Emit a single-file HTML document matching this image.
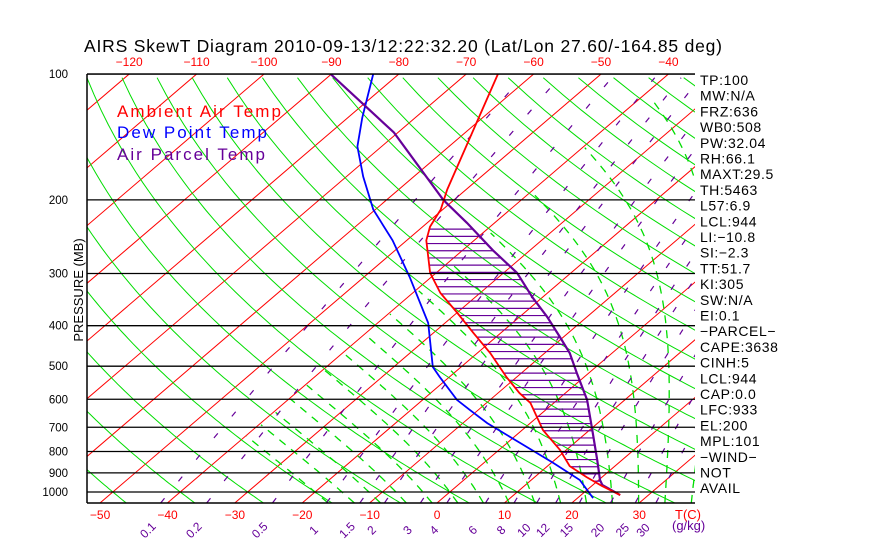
<!DOCTYPE html>
<html><head><meta charset="utf-8">
<style>
html,body{margin:0;padding:0;background:#fff;}
svg{display:block;font-family:"Liberation Sans",sans-serif;}
</style></head>
<body>
<svg id="chart" width="870" height="560" viewBox="0 0 870 560">
<defs><clipPath id="plotclip"><rect x="87" y="74" width="608" height="429"/></clipPath></defs>
<text x="84" y="52" font-size="17.5" fill="#000" textLength="638" lengthAdjust="spacing">AIRS SkewT Diagram 2010-09-13/12:22:32.20 (Lat/Lon 27.60/-164.85 deg)</text>
<g id="grid" clip-path="url(#plotclip)"></g>
<g id="series" clip-path="url(#plotclip)"></g>
<g id="axes"></g>
<text transform="translate(83,290) rotate(-90)" text-anchor="middle" font-size="13" fill="#000">PRESSURE (MB)</text>
<g font-size="17">
<text x="117" y="117" fill="#ff0000" textLength="164" lengthAdjust="spacing">Ambient Air Temp</text>
<text x="117" y="138" fill="#0000ff" textLength="150" lengthAdjust="spacing">Dew Point Temp</text>
<text x="117" y="160" fill="#660099" textLength="148" lengthAdjust="spacing">Air Parcel Temp</text>
</g>
<g id="stats" font-size="14" letter-spacing="0.6" fill="#000"></g>
</svg>
<script>
const presLevels=[100,200,300,400,500,600,700,800,900,1000];
const topTicks=[-120,-110,-100,-90,-80,-70,-60,-50,-40];
const bottomTicks=[-50,-40,-30,-20,-10,0,10,20,30];
const mixRatios=[0.1,0.2,0.5,1,1.5,2,3,4,6,8,10,12,15,20,25,30];
const tempP=[100,189,211,232,250,299,334,373,416,465,531,580,612,711,794,867,921,967,1017];
const tempT=[-65.3,-52.8,-50.3,-48.9,-47.1,-40.9,-35.9,-29.9,-24.1,-18.1,-11.5,-6.8,-3.5,3.1,9.1,13.3,17.7,21.5,25.8];
const dewP=[100,127,149,176,211,250,306,394,502,531,602,637,684,763,852,936,1034];
const dewT=[-83.8,-77.9,-73.6,-67.5,-60.3,-52.1,-43.2,-32.5,-24.2,-21.4,-14.9,-11.2,-6.4,1.9,10.3,17.2,22.3];
const parcelP=[100,138,200,227,264,299,342,381,426,465,519,602,711,838,936,962,1017];
const parcelT=[-90.1,-70.6,-51.6,-44.1,-35.5,-28.0,-21.5,-15.9,-10.5,-6.3,-1.8,4.4,10.4,16.3,20.2,21.4,25.8];
const statLines=["TP:100","MW:N/A","FRZ:636","WB0:508","PW:32.04","RH:66.1","MAXT:29.5","TH:5463","L57:6.9","LCL:944","LI:\u221210.8","SI:\u22122.3","TT:51.7","KI:305","SW:N/A","EI:0.1","\u2212PARCEL\u2212","CAPE:3638","CINH:5","LCL:944","CAP:0.0","LFC:933","EL:200","MPL:101","\u2212WIND\u2212"," NOT"," AVAIL"];

const NS="http://www.w3.org/2000/svg";
function yOf(p){return 492+181.5*Math.log(p/1000);}
function xOf(T,p){const y=yOf(p);return 437+(503-y)*1.168+6.74*T;}
function mk(tag,attrs,parent){const e=document.createElementNS(NS,tag);for(const k in attrs)e.setAttribute(k,attrs[k]);parent.appendChild(e);return e;}
const grid=document.getElementById('grid'),series=document.getElementById('series'),axes=document.getElementById('axes'),stats=document.getElementById('stats');
const P0=1062,P1=100;
function pathFrom(fn,step){let d='';for(let p=P0;p>=P1-0.1;p-=step){const T=fn(p);d+=(d?'L':'M')+xOf(T,p).toFixed(1)+','+yOf(p).toFixed(1);}return d;}

for(let T=-160;T<=50;T+=10){
 const l=mk('line',{x1:xOf(T,P0),y1:yOf(P0),x2:xOf(T,P1),y2:yOf(P1),stroke:'#ff0000','stroke-width':1},grid);
 
 
}
for(let th=-60;th<=200;th+=10){
 const K=th+273.15;
 const pa=mk('path',{d:pathFrom(p=>K*Math.pow(p/1000,0.2857)-273.15,10),fill:'none',stroke:'#00dd00','stroke-width':1},grid);
 
 
}
function es(T){return 6.112*Math.exp(17.67*T/(T+243.5));}
function rs(T,p){const e=es(T);return 0.622*e/(p-e);}
function dTdp(T,p){const Tk=T+273.15,r=rs(T,p),Lv=2.5e6,Rd=287,cp=1005;return (Rd*Tk+Lv*r)/(p*(cp+Lv*Lv*r*0.622/(Rd*Tk*Tk)));}
for(let t0=-20;t0<=44;t0+=4){
 let T=t0,p=1000,pts=[];
 let Tb=t0;for(let q=1000;q<P0;q+=2){Tb+=dTdp(Tb,q)*2;}
 pts.push([xOf(Tb,P0),yOf(P0)]);
 while(p>P1&&T>-40){pts.push([xOf(T,p),yOf(p)]);T-=dTdp(T,p)*5;p-=5;}
 const pa=mk('path',{d:'M'+pts.map(a=>a[0].toFixed(1)+','+a[1].toFixed(1)).join('L'),fill:'none',stroke:'#00dd00','stroke-width':1.3,'stroke-dasharray':'8,7'},grid);
 
 
}
function tdFromW(w,p){const e=w*p/(622+w);const a=Math.log(e/6.112);return 243.5*a/(17.67-a);}
mixRatios.forEach((w,i)=>{
 const pa=mk('path',{d:pathFrom(p=>tdFromW(w,p),10),fill:'none',stroke:'#660099','stroke-width':1.2,'stroke-dasharray':'6,22'},grid);
 
 
 const x=xOf(tdFromW(w,P0),P0);
 const t=mk('text',{x:x-10,y:533,'font-size':12,fill:'#660099',transform:`rotate(-45 ${x-10} 533)`,'text-anchor':'middle'},axes);
 t.textContent=w;
 
 
});
const gk=mk('text',{x:672,y:530,'font-size':13,fill:'#660099'},axes);gk.textContent='(g/kg)';



presLevels.forEach(p=>{
 const y=yOf(p);
 const l=mk('line',{x1:87,y1:y,x2:695,y2:y,stroke:'#000','stroke-width':1.3},axes);
 
 
 const t=mk('text',{x:68,y:y+4,'font-size':11.5,'text-anchor':'end',fill:'#000'},axes);
 t.textContent=p;
 
 
});
const box1=mk('line',{x1:87,y1:74,x2:87,y2:503,stroke:'#000','stroke-width':1.5},axes);


const box2=mk('line',{x1:87,y1:503,x2:695,y2:503,stroke:'#000','stroke-width':1.5},axes);


const box3=mk('line',{x1:87,y1:74,x2:695,y2:74,stroke:'#000','stroke-width':1.3},axes);



topTicks.forEach(T=>{
 const t=mk('text',{x:xOf(T,P1),y:66,'font-size':12,'text-anchor':'middle',fill:'#ff0000'},axes);
 t.textContent=String(T).replace('-','\u2212');
 
 
});
bottomTicks.forEach(T=>{
 const t=mk('text',{x:xOf(T,P0),y:519,'font-size':12,'text-anchor':'middle',fill:'#ff0000'},axes);
 t.textContent=String(T).replace('-','\u2212');
 
 
});
const tc=mk('text',{x:688,y:519,'font-size':13,'text-anchor':'middle',fill:'#ff0000'},axes);tc.textContent='T(C)';



function ptsOf(P,T){return P.map((p,i)=>[xOf(T[i],p),yOf(p)]);}
const tPts=ptsOf(tempP,tempT),pPts=ptsOf(parcelP,parcelT),dPts=ptsOf(dewP,dewT);
function xAt(pts,y){for(let i=0;i<pts.length-1;i++){const a=pts[i],b=pts[i+1];if((y-a[1])*(y-b[1])<=0&&a[1]!==b[1]){return a[0]+(b[0]-a[0])*(y-a[1])/(b[1]-a[1]);}}return null;}
for(let y=yOf(235);y<=yOf(965);y+=7.2){
 const xa=xAt(tPts,y),xb=xAt(pPts,y);
 if(xa!==null&&xb!==null&&xb>xa+1){
  const l=mk('line',{x1:xa,y1:y,x2:xb,y2:y,stroke:'#660099','stroke-width':1.2},series);
  
  
 }
}
function poly(pts,color,w,name){
 const pl=mk('polyline',{points:pts.map(a=>a[0].toFixed(1)+','+a[1].toFixed(1)).join(' '),fill:'none',stroke:color,'stroke-width':w},series);
 
 
}
poly(dPts,'#0000ff',1.8,'dewpoint-line');
poly(pPts,'#660099',2.2,'parcel-line');
poly(tPts,'#ff0000',1.8,'temperature-line');

statLines.forEach((s,i)=>{
 const t=mk('text',{x:700,y:85+i*15.7},stats);
 t.textContent=s;
 t.setAttribute('xml:space','preserve');
 
 
});
</script>
</body></html>
